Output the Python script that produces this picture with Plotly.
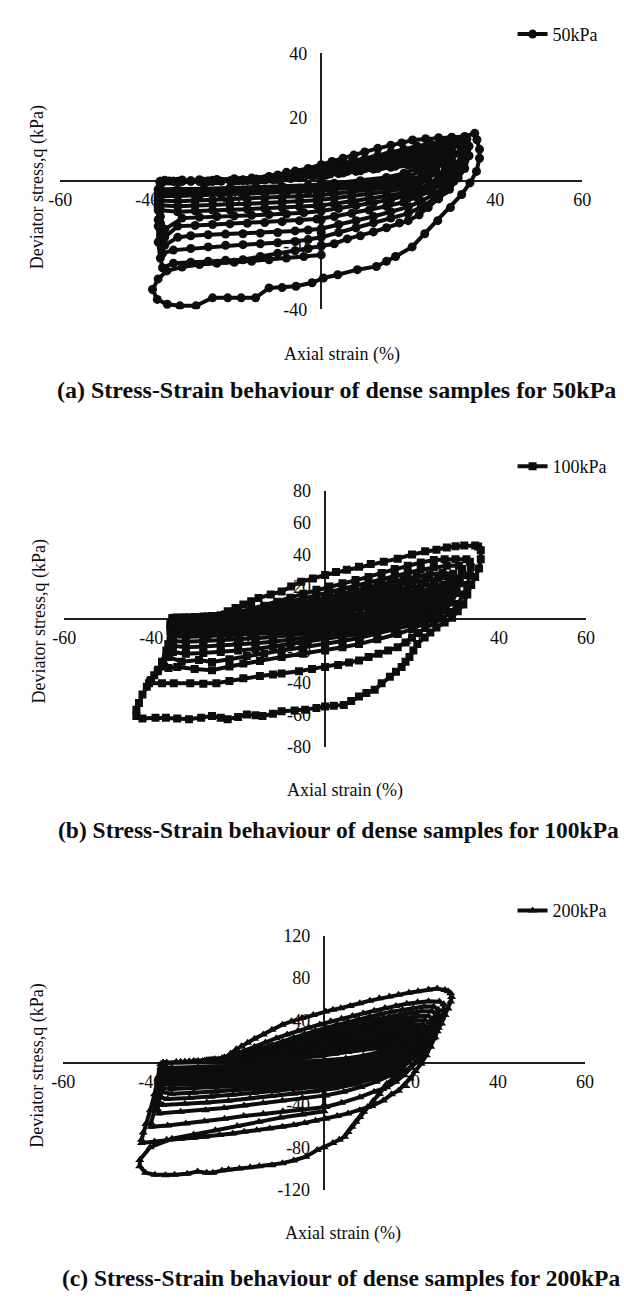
import plotly.graph_objects as go

# Cyclic triaxial records of dense samples: (axial strain %, deviator stress q kPa),
# listed in test order, one reversal branch per line.

path_50kpa = [
    (0, 0), (0, -4), (0, -8), (0, -12), (0, -16), (0, -20), (0, -23),
    (-4, -23.5), (-8, -24), (-12, -24.5), (-16, -25), (-20, -25.3), (-24, -25.6), (-28, -26), (-32, -26.8), (-35.5, -28), (-37.5, -30.5), (-38.8, -33.8),
    (-37.7, -36.9), (-35.4, -38.4), (-32.5, -38.9), (-28.8, -38.9), (-25, -36.4), (-21.5, -36.4), (-18.4, -36.4), (-15.1, -36.4), (-12, -33.3), (-9, -33.2), (-5.8, -32.8), (-2.1, -31.7), (0.5, -30.2), (3.8, -29.2), (8.3, -27.6), (12.7, -26.6), (15, -25), (17.1, -23.5), (20.9, -20.5), (23.8, -16.4), (26.8, -12.3), (29.7, -8.2), (32.3, -4.1), (34.2, -0.5), (35.7, 3.1), (36.4, 7.2), (36.4, 10), (35.8, 13), (35.3, 15),
    (33, 14), (30, 13.8), (27, 13.6), (24, 13.3), (21, 12.9), (18.5, 12), (16, 11.3), (13, 10.3), (10, 9.2), (7.5, 8.2), (5, 7.2), (2.5, 6.2), (0, 5.2), (-3, 4), (-6, 3.2), (-8, 2.8), (-10, 2), (-12, 1.5), (-16, 1), (-20, 0.8), (-24, 0.6), (-28, 0.5), (-32, 0.4), (-36, 0.3), (-37, 0),
    (-37, -4), (-37.5, -9), (-37.5, -14), (-37.5, -19), (-37, -24), (-36.5, -27),
    (-34, -25.6), (-30, -25.3), (-26, -25), (-22, -24.7), (-18, -24.5), (-14, -23.5), (-10, -22.5), (-6, -21.7), (-3, -21), (0, -20.3), (3, -19.5), (6, -18), (9, -17), (12, -15.8), (15, -14.5), (18, -13), (20, -12.3), (22.5, -10.5), (24.6, -8.2), (27, -5.5), (29.5, -2.5), (31.5, 1), (33, 4), (34, 8), (34, 11), (33.5, 13.2),
    (31, 13), (28, 12.4), (25, 11.8), (22, 11), (19, 10), (16, 9), (13, 8), (10, 7), (7, 6), (4, 5), (1, 4.3), (-2, 3.5), (-5, 2.5), (-8, 1.8), (-11, 1.2), (-15, 0.7), (-20, 0.5), (-25, 0.3), (-30, 0.2), (-35, 0.1), (-37, -0.5),
    (-37.5, -6), (-37.5, -12), (-37, -18), (-36.5, -22.5),
    (-34, -21.5), (-30, -21), (-26, -20.5), (-22, -20), (-18, -19.8), (-14, -19.5), (-10, -19.2), (-6, -18.8), (-3, -18.2), (0, -17.5), (4, -16), (8, -14.5), (12, -13), (16, -11.5), (20, -10), (23, -8), (26, -5.5), (28.5, -3), (30.5, 0), (32, 3.5), (32.8, 7), (33, 10), (32.5, 12.5),
    (30, 12), (27, 11.3), (24, 10.5), (21, 9.7), (18, 8.8), (15, 8), (12, 7), (9, 6), (6, 5), (3, 4.2), (0, 3.5), (-3, 2.8), (-6, 2), (-9, 1.3), (-13, 0.8), (-18, 0.5), (-24, 0.2), (-30, 0.1), (-36, 0), (-37, -1),
    (-37.5, -8), (-37, -15), (-36, -20),
    (-33, -17.5), (-30, -17), (-26, -16.7), (-22, -16.5), (-18, -16.4), (-14, -16.2), (-10, -16), (-6, -15.5), (-3, -15.2), (0, -14.8), (4, -13.5), (8, -12.3), (12, -11), (16, -9.5), (20, -8), (23, -6.2), (26, -4), (28.5, -1.5), (30.5, 2), (31.5, 5.5), (32, 9), (31.5, 11.5),
    (29, 11.2), (26, 10.5), (23, 9.8), (20, 9), (17, 8.2), (14, 7.4), (11, 6.5), (8, 5.6), (5, 4.7), (2, 3.9), (-1, 3.2), (-4, 2.4), (-7, 1.7), (-10, 1.1), (-14, 0.6), (-20, 0.3), (-26, 0.1), (-32, 0), (-37, -0.5),
    (-37.5, -7), (-37, -13), (-36, -17.5),
    (-33, -14), (-29, -13.8), (-25, -13.5), (-21, -13.3), (-17, -13.1), (-13, -12.9), (-9, -12.6), (-5, -12.3), (-1, -11.8), (3, -11), (7, -10), (11, -9), (15, -7.8), (19, -6.5), (22, -5), (25, -3.2), (27.5, -1), (29.5, 2), (30.5, 5.5), (30.5, 8.5), (30, 10.5),
    (27, 10), (24, 9.3), (21, 8.6), (18, 7.9), (15, 7.1), (12, 6.3), (9, 5.5), (6, 4.7), (3, 3.9), (0, 3.1), (-3, 2.4), (-6, 1.7), (-10, 1), (-15, 0.5), (-21, 0.2), (-28, 0), (-34, 0), (-37, -0.5),
    (-37.5, -6), (-37, -11), (-36, -15),
    (-32, -11.5), (-28, -11.2), (-24, -11), (-20, -10.8), (-16, -10.6), (-12, -10.4), (-8, -10.2), (-4, -9.8), (0, -9.3), (4, -8.5), (8, -7.6), (12, -6.7), (16, -5.6), (20, -4.4), (23, -3), (26, -1), (28, 1.5), (29.5, 4.5), (29.8, 7.5), (29, 9.5),
    (26, 9.2), (23, 8.5), (20, 7.8), (17, 7), (14, 6.3), (11, 5.6), (8, 4.8), (5, 4), (2, 3.2), (-1, 2.5), (-4, 1.8), (-8, 1.1), (-13, 0.6), (-19, 0.2), (-26, 0), (-33, 0), (-37, -0.5),
    (-37.5, -5), (-37, -9),
    (-33, -9.5), (-29, -9.2), (-25, -9), (-21, -8.9), (-17, -8.7), (-13, -8.5), (-9, -8.3), (-5, -8), (-1, -7.6), (3, -7), (7, -6.3), (11, -5.5), (15, -4.6), (19, -3.6), (22, -2.4), (25, -0.8), (27, 1.5), (28.5, 4.3), (28.7, 7), (28, 9),
    (25, 8.7), (22, 8), (19, 7.3), (16, 6.6), (13, 5.9), (10, 5.2), (7, 4.5), (4, 3.8), (1, 3.1), (-2, 2.4), (-5, 1.7), (-9, 1), (-14, 0.5), (-20, 0.2), (-27, 0), (-34, 0), (-37, -0.5),
    (-37.5, -4), (-37, -7.5),
    (-33, -7.8), (-29, -7.5), (-25, -7.3), (-21, -7.2), (-17, -7), (-13, -6.8), (-9, -6.6), (-5, -6.3), (-1, -5.9), (3, -5.3), (7, -4.7), (11, -4), (15, -3.2), (19, -2.3), (22, -1.2), (24.5, 0.5), (26.5, 3), (27.5, 6), (27, 8.3),
    (24, 8), (21, 7.4), (18, 6.8), (15, 6.1), (12, 5.4), (9, 4.7), (6, 4), (3, 3.3), (0, 2.6), (-3, 2), (-7, 1.3), (-12, 0.7), (-18, 0.3), (-25, 0), (-32, 0), (-37, -0.3),
    (-37.5, -3.5), (-37, -6),
    (-33, -6.2), (-29, -6), (-25, -5.8), (-21, -5.7), (-17, -5.5), (-13, -5.3), (-9, -5.1), (-5, -4.8), (-1, -4.4), (3, -3.9), (7, -3.3), (11, -2.7), (15, -2), (19, -1.2), (22, 0), (24.5, 2), (26, 4.5), (26, 7),
    (23, 7), (20, 6.4), (17, 5.8), (14, 5.1), (11, 4.5), (8, 3.8), (5, 3.2), (2, 2.5), (-1, 1.9), (-5, 1.3), (-10, 0.7), (-16, 0.3), (-23, 0), (-30, 0), (-37, -0.3),
    (-37.5, -2.5), (-37, -4.5),
    (-33, -4.6), (-28, -4.4), (-23, -4.2), (-18, -4), (-13, -3.8), (-8, -3.5), (-3, -3.1), (2, -2.6), (7, -2), (12, -1.3), (17, -0.5), (21, 0.5), (24, 2.5), (25.5, 5), (25, 6.5),
    (22, 6.2), (18, 5.5), (14, 4.7), (10, 3.9), (6, 3.1), (2, 2.3), (-2, 1.6), (-7, 0.9), (-13, 0.4), (-20, 0.1), (-28, 0), (-37, -0.2),
    (-37, -3.5),
    (-33, -3.5), (-27, -3.3), (-21, -3.1), (-15, -2.8), (-9, -2.5), (-3, -2.1), (3, -1.5), (9, -0.8), (15, 0.2), (20, 1.5), (23, 3.2), (24.5, 5),
    (21, 5.3), (17, 4.7), (13, 4), (9, 3.3), (5, 2.6), (1, 1.9), (-4, 1.2), (-10, 0.6), (-17, 0.2), (-25, 0), (-37, -0.2),
    (-37, -2.5),
    (-33, -2.5), (-27, -2.3), (-21, -2.1), (-15, -1.9), (-9, -1.6), (-3, -1.2), (3, -0.6), (9, 0.2), (15, 1.2), (19, 2.5), (22, 4), (23.5, 5.5),
    (20, 5), (16, 4.4), (12, 3.8), (8, 3.1), (4, 2.4), (0, 1.8), (-5, 1.1), (-11, 0.5), (-18, 0.2), (-26, 0), (-37, 0),
]

path_100kpa = [
    (-34, 0.5), (-34.5, -5), (-35, -10), (-35.7, -20), (-36.5, -24), (-37.5, -28.2), (-38.4, -32), (-39.3, -35.4), (-40.2, -39), (-41, -42.6), (-42, -47.5), (-42.8, -52.8), (-43.4, -57),
    (-43.4, -61), (-42, -62.5), (-39, -62), (-36.6, -62), (-34, -62.5), (-31.3, -63), (-28.5, -62), (-26, -61), (-24, -62), (-22.4, -63), (-20, -61.5), (-18, -60), (-16, -60.5), (-14.4, -61), (-12, -59.5), (-10, -58), (-7, -57.5), (-4.6, -57), (-2, -56), (0, -55), (2, -54.5), (4.3, -54), (6, -51.5), (7.8, -48.7), (9.5, -46.5), (11.4, -44.6), (13, -40.5), (14.9, -36.4), (16.3, -33.3), (17.6, -30.3), (18.5, -27), (19.4, -24.1), (20.3, -20), (21.2, -16), (22.9, -11.8), (24.2, -8.7), (25.6, -5.6), (27.5, -2.5), (29.2, 0.5), (30.5, 4.5), (31.8, 8.7), (32.7, 15), (33.6, 21), (34.5, 26), (35.4, 31.3), (35.8, 37), (35.8, 42.6), (35.2, 45), (34.5, 45.6),
    (32, 45.6), (30, 45.2), (28, 44.4), (25.6, 43), (23, 42), (20, 40), (16.7, 37.4), (13.5, 35.5), (10.5, 34), (7.8, 32.3), (5, 30.5), (2.5, 29), (0, 27.2), (-2.8, 25), (-5.5, 23), (-7.8, 20), (-10, 16.9), (-12.5, 15), (-15.3, 12.8), (-17, 10.8), (-18.8, 8.7), (-20.6, 6.6), (-22.4, 4.6), (-24.2, 1.5), (-27, 1), (-30, 0.8), (-32.5, 0.6), (-34.5, 0.5),
    (-35, -5), (-35.5, -12), (-36.5, -20), (-37.5, -27), (-38.5, -33), (-40, -38.5), (-40.5, -40.5),
    (-37.5, -40.5), (-34.8, -40.5), (-31, -40.5), (-28, -40.8), (-25, -40.5), (-22, -39), (-18.8, -37.4), (-15, -36), (-12, -35), (-10, -34.4), (-6, -33), (-3, -31.5), (0, -30.3), (3, -29), (5.5, -27.5), (7.8, -26.2), (10, -24), (12.3, -22), (14.5, -20), (16.7, -18), (18.5, -15), (20, -12), (21.5, -9), (23, -6), (25, -3), (27, 0), (29, 4), (30.5, 9), (31.8, 15), (32.7, 21), (33.3, 27), (33.5, 32), (33.3, 35.5), (32.5, 37),
    (30, 37), (27.5, 37), (25, 36.5), (22, 35), (19, 33), (16, 31), (13, 28.5), (10, 26), (7, 24), (4, 22), (1, 20), (-2, 18), (-5, 15.5), (-8, 13), (-11, 10.5), (-14, 8), (-17, 6), (-20, 4), (-23, 2.5), (-26, 1.5), (-30, 1), (-34, 0.5), (-35, 0),
    (-35.5, -8), (-36, -16), (-36.5, -24), (-37, -30),
    (-36, -31), (-34, -30.3), (-30, -31.5), (-26, -32.3), (-22, -30), (-18.8, -28.2), (-15, -26.5), (-10, -24.1), (-5, -22), (0, -20), (4, -18), (7.8, -16), (12, -13), (16.7, -9.7), (20, -6.5), (23, -3), (25.5, 1), (27.5, 5), (29, 10), (30.3, 16), (31, 22), (31.5, 27), (31.5, 31), (30.8, 33),
    (28, 33), (25, 32), (22, 30.5), (19, 28.5), (16, 26.5), (13, 24), (10, 22), (7, 20), (4, 18), (1, 16), (-2, 14), (-5, 12), (-8, 10), (-11, 8), (-14, 6), (-17, 4.5), (-20, 3), (-24, 2), (-28, 1.2), (-32, 0.6), (-35, 0),
    (-35.5, -8), (-36, -16), (-36, -24),
    (-33, -27), (-29, -26), (-26, -27.2), (-22, -25.5), (-18, -23.5), (-14, -22), (-10, -20), (-5, -18), (0, -16), (4, -14), (8, -12), (12, -9.5), (16, -7), (20, -4), (23, -0.5), (25.5, 3.5), (27.5, 8), (29, 14), (29.8, 20), (30, 25), (29.5, 28),
    (27, 28.5), (24, 27.5), (21, 26), (18, 24.5), (15, 22.5), (12, 20.5), (9, 18.5), (6, 16.5), (3, 14.5), (0, 12.5), (-3, 10.5), (-6, 9), (-9, 7.5), (-12, 6), (-15, 4.5), (-19, 3), (-23, 2), (-27, 1.2), (-31, 0.5), (-35, 0),
    (-35.5, -7), (-35.5, -14), (-35, -21),
    (-32, -22), (-28, -21.5), (-24, -21), (-20, -20), (-16, -19), (-12, -17.5), (-8, -16), (-4, -14.5), (0, -13), (4, -11.5), (8, -9.5), (12, -7.5), (16, -5), (20, -2), (23, 1.5), (25.5, 5.5), (27, 10), (28.2, 16), (28.8, 21), (28.5, 25),
    (26, 25), (23, 24), (20, 22.5), (17, 21), (14, 19.5), (11, 17.5), (8, 15.5), (5, 13.5), (2, 11.5), (-1, 9.5), (-4, 8), (-7, 6.5), (-10, 5.3), (-14, 4), (-18, 2.8), (-22, 1.8), (-27, 1), (-31, 0.5), (-35, 0),
    (-35.5, -6), (-35, -12), (-35, -17),
    (-32, -18), (-28, -17.5), (-24, -17), (-20, -16.3), (-16, -15.5), (-12, -14.5), (-8, -13.3), (-4, -12), (0, -10.5), (4, -9), (8, -7.5), (12, -5.5), (16, -3.3), (20, -0.5), (23, 3), (25, 7), (26.5, 12), (27.5, 17), (27.5, 21),
    (25, 21.5), (22, 20.5), (19, 19.2), (16, 17.8), (13, 16.3), (10, 14.8), (7, 13.2), (4, 11.5), (1, 9.8), (-2, 8.2), (-5, 6.8), (-8, 5.5), (-12, 4.2), (-16, 3), (-20, 2), (-25, 1.2), (-30, 0.5), (-35, 0),
    (-35.5, -5), (-35, -10), (-35, -14),
    (-32, -14.5), (-28, -14), (-24, -13.6), (-20, -13), (-16, -12.4), (-12, -11.6), (-8, -10.6), (-4, -9.5), (0, -8.3), (4, -7), (8, -5.5), (12, -4), (16, -2), (19.5, 0.5), (22.5, 4), (24.5, 8.5), (26, 13.5), (26.5, 18),
    (24, 18), (21, 17.2), (18, 16), (15, 14.8), (12, 13.5), (9, 12.2), (6, 10.8), (3, 9.4), (0, 8), (-3, 6.7), (-6, 5.5), (-10, 4.2), (-14, 3.1), (-19, 2), (-24, 1.2), (-29, 0.5), (-35, 0),
    (-35.5, -4), (-35, -8), (-35, -11),
    (-32, -11.5), (-27, -11), (-22, -10.5), (-17, -9.8), (-12, -9), (-7, -8), (-2, -6.8), (3, -5.4), (8, -3.8), (13, -2), (17, 0.3), (20.5, 3.5), (23, 7.5), (24.5, 12), (25, 15.5),
    (22, 15.5), (18, 14), (14, 12.5), (10, 11), (6, 9.3), (2, 7.6), (-2, 6), (-6, 4.6), (-11, 3.3), (-16, 2.2), (-22, 1.3), (-28, 0.6), (-35, 0),
    (-35.5, -4), (-35, -8.5),
    (-31, -9), (-26, -8.6), (-21, -8.1), (-16, -7.5), (-11, -6.8), (-6, -6), (-1, -5), (4, -3.8), (9, -2.4), (14, -0.7), (18, 1.5), (21.5, 5), (23.5, 9), (24, 13),
    (21, 13), (17, 11.8), (13, 10.5), (9, 9.1), (5, 7.7), (1, 6.3), (-3, 5), (-7, 3.8), (-12, 2.7), (-18, 1.7), (-24, 1), (-30, 0.4), (-35, 0),
    (-35.5, -3.5), (-35, -6.5),
    (-31, -7), (-25, -6.6), (-19, -6.1), (-13, -5.4), (-7, -4.6), (-1, -3.6), (5, -2.4), (11, -0.9), (16, 1), (20, 4), (22.5, 8), (23, 11),
    (20, 11), (16, 10), (12, 8.8), (8, 7.5), (4, 6.2), (0, 5), (-4, 3.9), (-9, 2.8), (-15, 1.8), (-21, 1), (-28, 0.4), (-35, 0),
    (-35.5, -3), (-35, -5.5),
    (-31, -5.5), (-25, -5.1), (-19, -4.6), (-13, -3.9), (-7, -3), (-1, -2), (5, -0.7), (11, 0.9), (15.5, 3), (19, 6), (21.5, 9.5), (22, 11),
    (19, 10.5), (15, 9.4), (11, 8.2), (7, 6.9), (3, 5.6), (-1, 4.3), (-5, 3.2), (-10, 2.2), (-16, 1.3), (-23, 0.6), (-35, 0),
    (-35, -4),
    (-31, -4), (-25, -3.6), (-19, -3.1), (-13, -2.4), (-7, -1.5), (-1, -0.5), (5, 0.8), (10.5, 2.5), (15, 4.8), (18.5, 7.5), (21, 10),
    (18, 9.5), (14, 8.3), (10, 7), (6, 5.7), (2, 4.4), (-2, 3.2), (-7, 2.1), (-13, 1.2), (-20, 0.5), (-35, 0),
    (-35, -2.5),
    (-31, -2.5), (-24, -2.1), (-17, -1.5), (-10, -0.7), (-3, 0.3), (4, 1.6), (10, 3.3), (14.5, 5.5), (18, 8), (20, 9.5),
    (16, 8.2), (12, 7), (8, 5.7), (4, 4.4), (0, 3.2), (-5, 2.1), (-11, 1.2), (-18, 0.5), (-35, 0),
]

path_200kpa = [
    (0, 0), (0, -10), (0, -20), (0, -30), (0, -40), (0, -46),
    (-5, -49), (-10, -52), (-15, -56), (-20, -60), (-25, -64), (-30, -68), (-35, -72), (-40, -80), (-42.4, -92),
    (-42.4, -98), (-41.1, -104), (-38.9, -106), (-36.5, -106.5), (-34.4, -106), (-31.5, -105), (-29.1, -103), (-27, -104), (-25.6, -104), (-23.5, -102), (-22, -101), (-19.5, -100), (-17, -99), (-14.9, -98), (-12, -97), (-9.6, -95), (-7, -92.5), (-4.2, -89), (-1.6, -82.6), (0, -80), (2, -76), (3.5, -73), (4.7, -70), (5.5, -65.5), (6.4, -60.7), (7.3, -56), (8.2, -51.4), (9.1, -46.5), (10, -42), (11.3, -36), (12.7, -29.6), (13.5, -25), (14.4, -20), (15.8, -15.5), (17.1, -11), (18.5, -7.5), (19.8, -4.7), (21, 0), (22.4, 4.7), (23.3, 11), (24.2, 17), (25.1, 23), (26, 29.6), (27, 37), (27.8, 45), (28.5, 51), (29.1, 57.6), (29.3, 62), (29.1, 65.4), (28.5, 67.5), (27.8, 68.5), (26, 70),
    (24, 69), (21.6, 67.5), (19.5, 66), (17.1, 64), (15, 62.5), (12.7, 60.7), (10.5, 58.5), (8.2, 56), (6, 53.5), (3.8, 51.4), (2, 50), (0.4, 48.3), (-2.5, 45), (-5.1, 42), (-7.5, 39), (-9.6, 35.8), (-12, 31), (-14, 26.5), (-16, 22.5), (-17.6, 18.7), (-19, 15.5), (-20.2, 12.5), (-21.5, 8.5), (-22.9, 4.7), (-24.2, 3), (-25.6, 1.6), (-28, 1.2), (-31, 0.8), (-34, 0.5), (-36.2, 0), (-37.6, -1.6),
    (-38.2, -15), (-39, -30), (-40, -45), (-41, -58), (-41.6, -66), (-42, -73),
    (-42, -76), (-39, -74.5), (-36.2, -73), (-33, -72), (-30, -71), (-27.3, -70), (-24, -68.5), (-21, -67), (-18.4, -65.4), (-15.5, -64), (-12.5, -62.3), (-9.6, -60.7), (-7, -59), (-4.5, -57), (-2, -55), (0.4, -53), (3, -50.5), (5.5, -48), (8.2, -45), (11, -41), (13.6, -35.8), (15.5, -30), (17.1, -26.5), (18.5, -21), (19.8, -15), (21, -8), (22.3, -1), (23.5, 7), (24.5, 15), (25.5, 24), (26.3, 33), (27, 42), (27.5, 50), (27.5, 55), (26.5, 57.6),
    (24, 58), (21.5, 57), (19, 55.5), (16.5, 53.5), (14, 51.5), (11.5, 49), (9, 46.5), (6.5, 44), (4, 41.5), (1.5, 39), (-1, 36), (-3.5, 33), (-6, 30), (-8.5, 26.5), (-11, 23), (-13.5, 19), (-16, 15), (-18.5, 11), (-21, 7), (-23.5, 4), (-26, 2), (-29, 1), (-33, 0.5), (-37, -1),
    (-37.5, -15), (-38.3, -30), (-39, -45), (-39.8, -57),
    (-39.8, -60.7), (-36, -59.5), (-31.8, -57.6), (-27.5, -55.5), (-22.9, -53), (-18.5, -50.5), (-14, -48.3), (-9.5, -46), (-5, -44.3), (0.4, -42), (4, -38), (8.2, -32.7), (11.5, -27.5), (14.4, -23.4), (16.5, -18), (18.3, -12), (20, -5), (21.5, 2), (22.8, 10), (24, 18), (25, 27), (25.8, 36), (26.3, 44), (26.3, 50), (25.2, 53),
    (23, 53), (20.5, 51.5), (18, 50), (15.5, 48), (13, 46), (10.5, 43.5), (8, 41), (5.5, 38.5), (3, 36), (0.5, 33), (-2, 30), (-4.5, 27), (-7, 23.5), (-9.5, 20), (-12, 16.5), (-14.5, 13), (-17, 10), (-19.5, 7), (-22, 4.5), (-25, 2.5), (-28, 1.2), (-32, 0.5), (-37, -1),
    (-37.5, -15), (-38, -30), (-38.3, -44),
    (-38, -48), (-33, -46.5), (-27.3, -45), (-23, -43), (-18.4, -40.5), (-14, -38.2), (-9.6, -35.8), (-5, -33.5), (0.4, -31), (4.5, -27.5), (8.5, -23), (12, -18), (15, -12.5), (17.5, -6.5), (19.5, 0), (21.3, 7), (22.8, 15), (24, 23), (25, 31), (25.6, 39), (25.8, 45), (24.8, 48.5),
    (22.5, 48.5), (20, 47), (17.5, 45.3), (15, 43.5), (12.5, 41.5), (10, 39.2), (7.5, 37), (5, 34.5), (2.5, 32), (0, 29.5), (-2.5, 26.8), (-5, 24), (-7.5, 21), (-10, 18), (-12.5, 15), (-15, 12), (-17.5, 9.3), (-20, 6.8), (-23, 4.5), (-26, 2.7), (-30, 1.2), (-34, 0.4), (-37, -1),
    (-37.5, -13), (-37.8, -26), (-38, -37),
    (-37, -40), (-32, -39), (-27, -37.8), (-22, -36), (-17, -33.8), (-12, -31.5), (-7, -29.2), (-2, -27), (2.5, -24.3), (7, -20.5), (11, -15.5), (14.5, -10), (17.5, -3.5), (20, 3.5), (22, 11), (23.5, 19), (24.5, 27), (25, 35), (25, 41), (24, 44),
    (21.5, 44), (19, 42.5), (16.5, 40.8), (14, 39), (11.5, 37), (9, 34.8), (6.5, 32.5), (4, 30.2), (1.5, 27.8), (-1, 25.3), (-3.5, 22.7), (-6, 20), (-8.5, 17.3), (-11, 14.6), (-13.5, 12), (-16, 9.6), (-19, 7.2), (-22, 5), (-25, 3.2), (-29, 1.6), (-33, 0.6), (-37, -1),
    (-37.5, -12), (-37.8, -24), (-37.5, -33),
    (-36, -34.5), (-31, -33.5), (-26, -32.3), (-21, -30.5), (-16, -28.5), (-11, -26.5), (-6, -24.5), (-1, -22.5), (4, -19.5), (8.5, -15.5), (12.5, -10.5), (16, -4.5), (19, 2.5), (21.3, 10), (23, 18), (24, 26), (24.5, 33), (24.3, 38), (23.2, 40),
    (21, 40), (18.5, 38.5), (16, 36.8), (13.5, 35), (11, 33), (8.5, 31), (6, 28.8), (3.5, 26.6), (1, 24.3), (-1.5, 22), (-4, 19.6), (-6.5, 17.2), (-9, 14.8), (-11.5, 12.5), (-14, 10.3), (-17, 8), (-20, 6), (-23, 4.2), (-27, 2.5), (-31, 1.1), (-37, -0.5),
    (-37.5, -10), (-37.5, -20), (-37, -28),
    (-35, -29.5), (-30, -28.6), (-25, -27.5), (-20, -26), (-15, -24.3), (-10, -22.6), (-5, -20.8), (0, -18.8), (5, -15.8), (9.5, -11.8), (13.5, -7), (17, -1), (20, 6), (22, 13.5), (23.2, 21), (23.8, 28), (23.8, 33), (22.8, 36),
    (20.5, 36), (18, 34.6), (15.5, 33), (13, 31.3), (10.5, 29.5), (8, 27.6), (5.5, 25.6), (3, 23.5), (0.5, 21.4), (-2, 19.2), (-4.5, 17), (-7, 14.8), (-10, 12.3), (-13, 10), (-16, 7.8), (-19, 5.8), (-22.5, 4), (-26.5, 2.4), (-31, 1), (-37, -0.5),
    (-37.5, -9), (-37.5, -17), (-37, -24),
    (-35, -25), (-30, -24.3), (-25, -23.4), (-20, -22.2), (-15, -20.8), (-10, -19.3), (-5, -17.7), (0, -15.9), (5, -13.2), (9.5, -9.6), (13.5, -5.2), (17, 0.5), (19.8, 7), (21.8, 14), (23, 21), (23.4, 27), (23, 31), (22, 33),
    (19.5, 33), (17, 31.8), (14.5, 30.3), (12, 28.7), (9.5, 27), (7, 25.2), (4.5, 23.3), (2, 21.4), (-0.5, 19.4), (-3, 17.4), (-5.5, 15.4), (-8.5, 13), (-11.5, 10.8), (-14.5, 8.6), (-18, 6.4), (-21.5, 4.5), (-25.5, 2.8), (-30, 1.2), (-37, -0.5),
    (-37.5, -8), (-37.5, -15), (-37, -20),
    (-35, -21), (-30, -20.4), (-25, -19.6), (-20, -18.6), (-15, -17.4), (-10, -16.1), (-5, -14.7), (0, -13), (5, -10.6), (9.5, -7.3), (13.5, -3.2), (16.8, 2), (19.5, 8), (21.5, 14.5), (22.6, 21), (22.8, 26), (22, 29.5),
    (19, 29.5), (16.5, 28.3), (14, 27), (11.5, 25.5), (9, 24), (6.5, 22.3), (4, 20.6), (1.5, 18.8), (-1, 17), (-3.5, 15.2), (-6.5, 13), (-9.5, 11), (-12.5, 9), (-15.5, 7), (-19, 5.2), (-23, 3.4), (-27.5, 1.8), (-32, 0.7), (-37, -0.5),
    (-37.5, -7), (-37, -17),
    (-35, -17.5), (-30, -17), (-25, -16.3), (-20, -15.4), (-15, -14.3), (-10, -13), (-5, -11.6), (0, -10), (5, -7.8), (9.5, -4.8), (13.5, -1), (16.8, 4), (19.3, 9.5), (21.2, 15.5), (22.2, 21), (22.3, 25), (21.5, 27),
    (18.5, 27), (16, 25.8), (13.5, 24.5), (11, 23), (8.5, 21.5), (6, 19.8), (3.5, 18.1), (1, 16.3), (-1.5, 14.5), (-4, 12.7), (-7, 10.6), (-10, 8.7), (-13, 6.8), (-16.5, 5), (-20.5, 3.4), (-25, 2), (-30, 0.8), (-37, -0.5),
    (-37.5, -6), (-37, -14),
    (-35, -14.5), (-30, -14), (-25, -13.3), (-20, -12.4), (-15, -11.3), (-10, -10.1), (-5, -8.7), (0, -7.1), (5, -5), (9.5, -2), (13.5, 1.8), (16.5, 6.5), (19, 12), (20.8, 17.5), (21.7, 22), (21.5, 24.5),
    (18, 24.5), (15.5, 23.3), (13, 22), (10.5, 20.6), (8, 19.1), (5.5, 17.5), (3, 15.8), (0.5, 14.1), (-2, 12.3), (-5, 10.3), (-8, 8.4), (-11.5, 6.5), (-15, 4.8), (-19, 3.2), (-24, 1.8), (-29.5, 0.7), (-37, -0.5),
    (-37.5, -5), (-37, -11),
    (-35, -11.5), (-30, -11), (-25, -10.4), (-20, -9.6), (-15, -8.6), (-10, -7.5), (-5, -6.1), (0, -4.5), (5, -2.5), (9.5, 0.4), (13.3, 4), (16.3, 8.5), (18.8, 13.5), (20.5, 18.5), (21.2, 22),
    (17.5, 22), (15, 20.8), (12.5, 19.5), (10, 18.1), (7.5, 16.6), (5, 15), (2.5, 13.4), (0, 11.7), (-3, 9.7), (-6, 7.8), (-9.5, 6), (-13, 4.4), (-17, 3), (-22, 1.7), (-28, 0.6), (-37, -0.3),
    (-37.5, -4), (-37, -8.5),
    (-35, -9), (-30, -8.5), (-25, -7.9), (-20, -7.1), (-15, -6.2), (-10, -5.1), (-5, -3.8), (0, -2.2), (5, -0.2), (9.3, 2.6), (13, 6.2), (16, 10.5), (18.5, 15.3), (20, 19.5),
    (17, 19.5), (14.5, 18.3), (12, 17), (9.5, 15.6), (7, 14.1), (4.5, 12.6), (2, 11), (-1, 9.1), (-4, 7.3), (-7.5, 5.6), (-11, 4.1), (-15, 2.8), (-20, 1.6), (-26, 0.6), (-37, -0.3),
    (-37, -3), (-37, -6.5),
    (-35, -7), (-29, -6.4), (-23, -5.6), (-17, -4.6), (-11, -3.4), (-5, -1.8), (0, -0.2), (5, 1.8), (9.3, 4.6), (13, 8.2), (16, 12.5), (18.5, 17),
    (15.5, 17), (13, 15.8), (10.5, 14.5), (8, 13.1), (5.5, 11.7), (3, 10.2), (0, 8.4), (-3, 6.6), (-6.5, 5), (-10, 3.6), (-14, 2.4), (-19, 1.3), (-25, 0.5), (-37, -0.3),
    (-37, -2.5), (-37, -5),
    (-35, -5), (-29, -4.4), (-23, -3.6), (-17, -2.6), (-11, -1.4), (-5, 0.2), (0, 1.8), (5, 3.8), (9, 6.4), (12.5, 9.8), (15.5, 14), (17.5, 16),
    (14.5, 15), (11.5, 13.5), (8.5, 11.8), (5.5, 10.1), (2.5, 8.3), (-0.5, 6.5), (-4, 4.7), (-8, 3.1), (-12.5, 1.9), (-18, 1), (-25, 0.3), (-37, -0.2),
]

strain_ticks = [-60, -40, -20, 20, 40, 60]
panels = [
    # legend name, path, marker symbol, stress ticks, caption
    ("50kPa", path_50kpa, "circle", [-40, -20, 20, 40],
     "(a) Stress-Strain behaviour of dense samples for 50kPa"),
    ("100kPa", path_100kpa, "square", [-80, -60, -40, -20, 20, 40, 60, 80],
     "(b) Stress-Strain behaviour of dense samples for 100kPa"),
    ("200kPa", path_200kpa, "triangle-up", [-120, -80, -40, 40, 80, 120],
     "(c) Stress-Strain behaviour of dense samples for 200kPa"),
]

W, H = 624, 1302
SERIF = "Liberation Serif, Times New Roman, serif"
INK = "#0d0d0d"

# pixel frames of each panel: (left, right, top, bottom)
frames = [(50, 590, 44, 304), (54, 594, 488, 748), (53, 593, 940, 1198)]
# (x-title centre, x-title y, y-title x, y-title centre, caption left, caption y, caption size, legend top)
text_pos = [
    (341, 350, 26, 180, 44, 386, 24, 6),
    (345, 793, 28, 621, 46, 833, 23.5, 445),
    (343, 1243, 26, 1072, 50, 1288, 23.5, 896),
]
marker_sizes = [9, 8, 8]


def tick_text(vals):
    # plain hyphen-minus, as in the printed figure
    return ["%d" % v for v in vals]


fig = go.Figure()
layout = dict(
    width=W, height=H, autosize=False,
    margin=dict(l=0, r=0, t=0, b=0),
    paper_bgcolor="white", plot_bgcolor="white",
    font=dict(family=SERIF, size=18, color=INK),
    annotations=[],
)

for i, (name, path, symbol, q_ticks, caption) in enumerate(panels):
    k = "" if i == 0 else str(i + 1)
    left, right, top, bottom = frames[i]
    xd = [left / W, right / W]
    yd = [1 - bottom / H, 1 - top / H]
    qmax = max(q_ticks)
    strain = [p[0] for p in path]
    stress = [p[1] for p in path]
    legend_name = "legend" + k
    fig.add_trace(go.Scatter(
        x=strain, y=stress, name=name, mode="lines+markers",
        line=dict(color=INK, width=4),
        marker=dict(symbol=symbol, size=marker_sizes[i], color=INK),
        xaxis="x" + k, yaxis="y" + k, legend=legend_name, showlegend=True,
    ))
    layout["xaxis" + k] = dict(
        domain=xd, range=[-60, 60], anchor="free", position=(yd[0] + yd[1]) / 2,
        tickvals=strain_ticks, ticktext=tick_text(strain_ticks),
        ticks="", showgrid=False, showline=False,
        zeroline=True, zerolinecolor="#1e1e1e", zerolinewidth=2,
        tickfont=dict(family=SERIF, size=18, color=INK),
        ticklabelstandoff=6, layer="below traces", fixedrange=True,
    )
    layout["yaxis" + k] = dict(
        domain=yd, range=[-qmax, qmax], anchor="free", position=(xd[0] + xd[1]) / 2,
        tickvals=q_ticks, ticktext=tick_text(q_ticks),
        ticks="", showgrid=False, showline=False,
        zeroline=True, zerolinecolor="#1e1e1e", zerolinewidth=2,
        tickfont=dict(family=SERIF, size=18, color=INK),
        ticklabelstandoff=14, layer="below traces", fixedrange=True,
    )
    xt_x, xt_y, yt_x, yt_y, cap_x, cap_y, cap_size, leg_top = text_pos[i]
    layout[legend_name] = dict(
        x=518 / W, xanchor="left", y=1 - leg_top / H, yanchor="top",
        bgcolor="rgba(0,0,0,0)", font=dict(family=SERIF, size=18, color=INK),
        borderwidth=0,
    )
    layout["annotations"] += [
        dict(text="Axial strain (%)", x=xt_x / W, y=1 - xt_y / H, xref="paper", yref="paper",
             xanchor="center", yanchor="middle", showarrow=False,
             font=dict(family=SERIF, size=18, color=INK)),
        dict(text="Deviator stress,q (kPa)", x=yt_x / W, y=1 - yt_y / H, xref="paper", yref="paper",
             xanchor="center", yanchor="middle", textangle=-90, showarrow=False,
             font=dict(family=SERIF, size=18, color=INK)),
        dict(text="<b>" + caption + "</b>", x=cap_x / W, y=1 - cap_y / H, xref="paper", yref="paper",
             xanchor="left", yanchor="middle", showarrow=False,
             font=dict(family=SERIF, size=cap_size, color=INK)),
    ]

fig.update_layout(**layout)
fig.write_html("out.html")
